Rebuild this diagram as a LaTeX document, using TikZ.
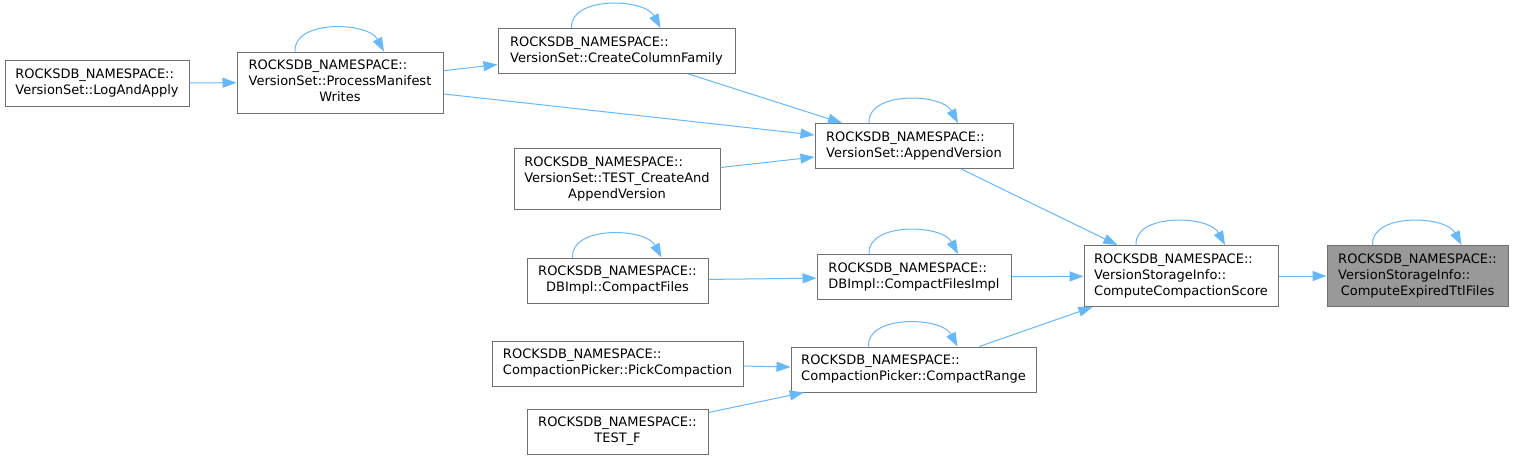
\documentclass[tikz,border=0pt]{standalone}
\usepackage{fontspec}
\setmainfont{DejaVu Sans}
\usetikzlibrary{arrows.meta}
\definecolor{linkblue}{RGB}{99,184,255}
\definecolor{boxgray}{RGB}{112,112,112}
\definecolor{selfgray}{RGB}{153,153,153}
\newcommand\fnlabel[2]{\begin{tabular}{@{}l@{}}#1\\\multicolumn{1}{@{}c@{}}{#2}\end{tabular}}

\begin{document}
\begin{tikzpicture}[x=1pt, y=-1pt,
    fnbox/.style={draw=boxgray, line width=1pt, fill=white, inner sep=0pt,
      font=\fontsize{13}{16}\selectfont},
    link/.style={draw=linkblue, line width=1pt, -{Triangle[length=14pt,width=10pt]}},
  ]
  \useasboundingbox (0,0) rectangle (1514,459);

  % callers, left to right
  \node[fnbox, minimum width=184pt, minimum height=46pt] (log) at (97,83)
    {\fnlabel{ROCKSDB\_NAMESPACE::}{VersionSet::LogAndApply}};
  \node[fnbox, minimum width=206pt, minimum height=61pt] (pmw) at (340,82.5)
    {\fnlabel{ROCKSDB\_NAMESPACE::\\VersionSet::ProcessManifest}{Writes}};
  \node[fnbox, minimum width=237pt, minimum height=45pt] (ccf) at (616.5,51)
    {\fnlabel{ROCKSDB\_NAMESPACE::}{VersionSet::CreateColumnFamily}};
  \node[fnbox, minimum width=206pt, minimum height=61pt] (tca) at (617,179)
    {\fnlabel{ROCKSDB\_NAMESPACE::\\VersionSet::TEST\_CreateAnd}{AppendVersion}};
  \node[fnbox, minimum width=181pt, minimum height=45pt] (cf) at (617.5,280.5)
    {\fnlabel{ROCKSDB\_NAMESPACE::}{DBImpl::CompactFiles}};
  \node[fnbox, minimum width=251pt, minimum height=45pt] (pick) at (617.5,363.5)
    {\fnlabel{ROCKSDB\_NAMESPACE::}{CompactionPicker::PickCompaction}};
  \node[fnbox, minimum width=181pt, minimum height=45pt] (testf) at (617.5,431.5)
    {\fnlabel{ROCKSDB\_NAMESPACE::}{TEST\_F}};
  \node[fnbox, minimum width=198pt, minimum height=45pt] (av) at (914,146)
    {\fnlabel{ROCKSDB\_NAMESPACE::}{VersionSet::AppendVersion}};
  \node[fnbox, minimum width=194pt, minimum height=45pt] (cfi) at (914,277)
    {\fnlabel{ROCKSDB\_NAMESPACE::}{DBImpl::CompactFilesImpl}};
  \node[fnbox, minimum width=245pt, minimum height=45pt] (cr) at (913.5,369.5)
    {\fnlabel{ROCKSDB\_NAMESPACE::}{CompactionPicker::CompactRange}};
  \node[fnbox, minimum width=194pt, minimum height=61pt] (ccs) at (1181,276)
    {\fnlabel{ROCKSDB\_NAMESPACE::\\VersionStorageInfo::}{ComputeCompactionScore}};
  \node[fnbox, fill=selfgray, minimum width=181pt, minimum height=61pt] (cet) at (1417.5,276)
    {\fnlabel{ROCKSDB\_NAMESPACE::\\VersionStorageInfo::}{ComputeExpiredTtlFiles}};

  % calls
  \draw[link] (log) -- (pmw);
  \draw[link] (pmw) -- (ccf);
  \draw[link] (pmw) -- (av);
  \draw[link] (ccf) -- (av);
  \draw[link] (tca) -- (av);
  \draw[link] (cf) -- (cfi);
  \draw[link] (pick) -- (cr);
  \draw[link] (testf) -- (cr);
  \draw[link] (av) -- (ccs);
  \draw[link] (cfi) -- (ccs);
  \draw[link] (cr) -- (ccs);
  \draw[link] (ccs) -- (cet);

  % recursive calls
  \foreach \n in {pmw, ccf, av, cf, cfi, cr, ccs, cet}
    \draw[link] ([xshift=-45pt]\n.north) .. controls +(-2,-32) and +(-16,-30) .. ([xshift=44pt]\n.north);
\end{tikzpicture}
\end{document}
